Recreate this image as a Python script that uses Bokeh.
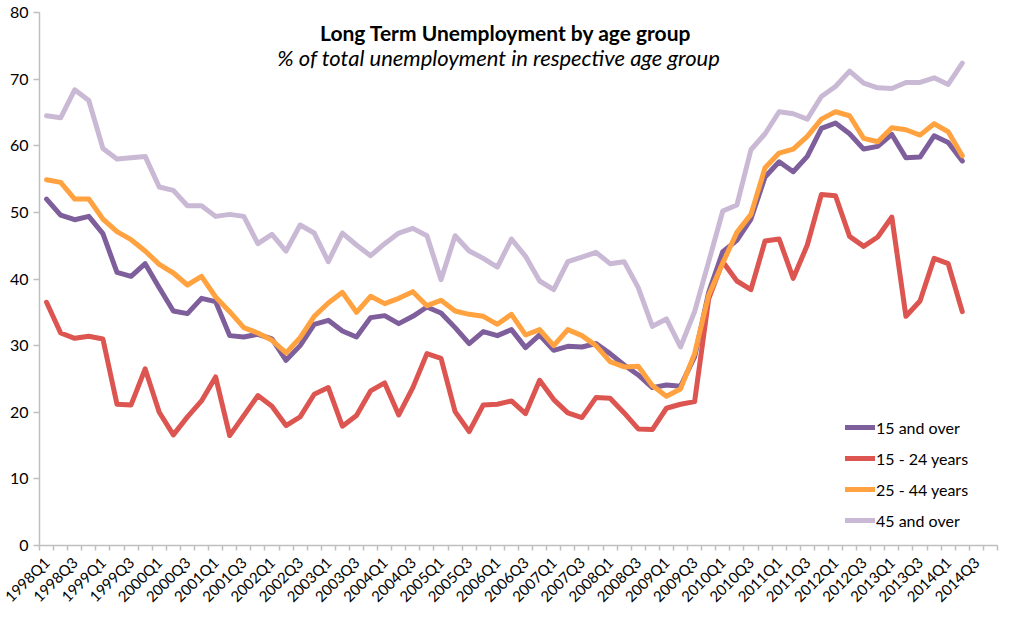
import math
from bokeh.plotting import figure
from bokeh.models import Range1d, FixedTicker, Label, Legend, LegendItem, ColumnDataSource
from bokeh.embed import file_html
from bokeh.resources import INLINE

quarters = [f"{y}Q{q}" for y in range(1998, 2015) for q in range(1, 5)]

age_15_over = [52.0, 49.6, 48.9, 49.4, 46.8, 41.0, 40.4, 42.3, 38.7, 35.2,
               34.8, 37.1, 36.6, 31.5, 31.3, 31.7, 31.0, 27.8, 30.0, 33.2,
               33.8, 32.2, 31.3, 34.2, 34.5, 33.3, 34.4, 35.8, 34.9, 32.7,
               30.3, 32.1, 31.5, 32.4, 29.7, 31.6, 29.3, 29.9, 29.8, 30.3,
               28.8, 27.1, 25.6, 23.7, 24.1, 23.9, 28.3, 38.0, 44.1, 45.8,
               49.0, 55.3, 57.6, 56.1, 58.4, 62.6, 63.4, 61.8, 59.5, 59.9,
               61.7, 58.2, 58.3, 61.5, 60.5, 57.7]

age_15_24 = [36.5, 31.9, 31.1, 31.4, 31.0, 21.2, 21.1, 26.5, 20.0, 16.6,
             19.3, 21.7, 25.3, 16.5, 19.5, 22.5, 20.9, 18.0, 19.3, 22.7,
             23.7, 17.9, 19.5, 23.2, 24.4, 19.6, 23.7, 28.8, 28.1, 20.1,
             17.1, 21.1, 21.2, 21.7, 19.8, 24.8, 21.9, 19.9, 19.2, 22.2,
             22.1, 19.9, 17.5, 17.4, 20.6, 21.2, 21.6, 37.0, 42.6, 39.7,
             38.4, 45.7, 46.0, 40.1, 45.1, 52.7, 52.5, 46.4, 44.9, 46.3,
             49.3, 34.4, 36.7, 43.1, 42.3, 35.1]

age_25_44 = [54.9, 54.5, 52.0, 52.0, 49.0, 47.1, 45.9, 44.2, 42.2, 40.9,
             39.1, 40.4, 37.3, 35.1, 32.7, 31.9, 30.8, 28.9, 31.2, 34.4,
             36.4, 38.0, 35.0, 37.4, 36.3, 37.1, 38.1, 36.0, 36.8, 35.2,
             34.7, 34.4, 33.2, 34.7, 31.6, 32.4, 30.0, 32.4, 31.5, 30.0,
             27.6, 26.8, 26.9, 24.0, 22.4, 23.5, 28.8, 37.6, 42.4, 47.0,
             49.7, 56.7, 58.9, 59.5, 61.4, 64.0, 65.1, 64.5, 61.1, 60.6,
             62.7, 62.4, 61.6, 63.3, 62.1, 58.5]

age_45_over = [64.5, 64.2, 68.4, 66.8, 59.6, 58.0, 58.2, 58.4, 53.8, 53.3,
               51.0, 51.0, 49.4, 49.7, 49.4, 45.3, 46.7, 44.2, 48.1, 46.9,
               42.6, 46.9, 45.1, 43.5, 45.3, 46.9, 47.6, 46.5, 39.9, 46.5,
               44.2, 43.1, 41.8, 46.0, 43.4, 39.7, 38.4, 42.6, 43.3, 44.0,
               42.3, 42.6, 38.7, 32.9, 34.0, 29.8, 35.1, 42.6, 50.2, 51.1,
               59.4, 61.8, 65.1, 64.8, 64.0, 67.4, 68.9, 71.2, 69.4, 68.7,
               68.6, 69.5, 69.5, 70.2, 69.2, 72.4]

series_names = ["15 and over", "15 - 24 years", "25 - 44 years", "45 and over"]
series_values = [age_15_over, age_15_24, age_25_44, age_45_over]
series_colors = ["#7E5E9B", "#DC5551", "#FFA23F", "#C9B9D5"]

title_text = "Long Term Unemployment by age group"
subtitle_text = "% of total unemployment in respective age group"

FONT = "Lato"

W, H = 1015, 614
FL, FW, FT, FH = 39, 958, 12, 535

p = figure(width=W, height=H, output_backend="svg", toolbar_location=None,
           x_range=Range1d(-0.5, len(quarters) - 0.5), y_range=Range1d(0, 80),
           min_border_left=FL, min_border_right=W - FL - FW,
           min_border_top=FT, min_border_bottom=H - FT - FH,
           background_fill_color="white", border_fill_color="white")
p.outline_line_color = None
p.grid.visible = False

# y axis
p.yaxis.ticker = FixedTicker(ticks=list(range(0, 81, 10)))
p.yaxis.axis_line_color = "#BFBFBF"
p.yaxis.axis_line_width = 1.5
p.yaxis.major_tick_line_color = "#BFBFBF"
p.yaxis.major_tick_line_width = 1.5
p.yaxis.major_tick_out = 6
p.yaxis.major_tick_in = 0
p.yaxis.minor_tick_line_color = None
p.yaxis.major_label_text_font = FONT
p.yaxis.major_label_text_font_size = "16px"
p.yaxis.major_label_text_color = "black"
p.yaxis.major_label_standoff = 5

# x axis
label_idx = list(range(0, len(quarters), 2))
p.xaxis.ticker = FixedTicker(ticks=label_idx,
                             minor_ticks=[i - 0.5 for i in range(len(quarters) + 1)])
p.xaxis.major_label_overrides = {i: quarters[i] for i in label_idx}
p.xaxis.major_label_orientation = math.pi / 4
p.xaxis.axis_line_color = "#BFBFBF"
p.xaxis.axis_line_width = 1.5
p.xaxis.major_tick_line_color = None
p.xaxis.minor_tick_line_color = "#BFBFBF"
p.xaxis.minor_tick_line_width = 1.5
p.xaxis.minor_tick_out = 5
p.xaxis.minor_tick_in = 0
p.xaxis.major_label_text_font = FONT
p.xaxis.major_label_text_font_size = "15px"
p.xaxis.major_label_text_color = "black"
p.xaxis.major_label_standoff = 8

items = []
for name, vals, col in zip(series_names, series_values, series_colors):
    src = ColumnDataSource(dict(x=list(range(len(vals))), y=vals))
    r = p.line("x", "y", source=src, line_color=col, line_width=5,
               line_join="round", line_cap="round")
    items.append(LegendItem(label=name, renderers=[r]))

legend = Legend(items=items, location=(806, 15), orientation="vertical",
                glyph_width=30, glyph_height=20, label_height=20, spacing=11,
                label_standoff=1, padding=0, margin=0,
                border_line_color=None, background_fill_alpha=0,
                label_text_font=FONT, label_text_font_size="16px", label_text_color="black")
p.add_layout(legend)

p.add_layout(Label(x=32.6, y=77.0, text=title_text, text_align="center", text_baseline="middle",
                   text_font=FONT, text_font_style="bold", text_font_size="21px", text_color="black"))
p.add_layout(Label(x=32.1, y=73.2, text=subtitle_text, text_align="center", text_baseline="middle",
                   text_font=FONT, text_font_style="italic", text_font_size="22px", text_color="black"))

open("out.html", "w").write(file_html(p, INLINE))
